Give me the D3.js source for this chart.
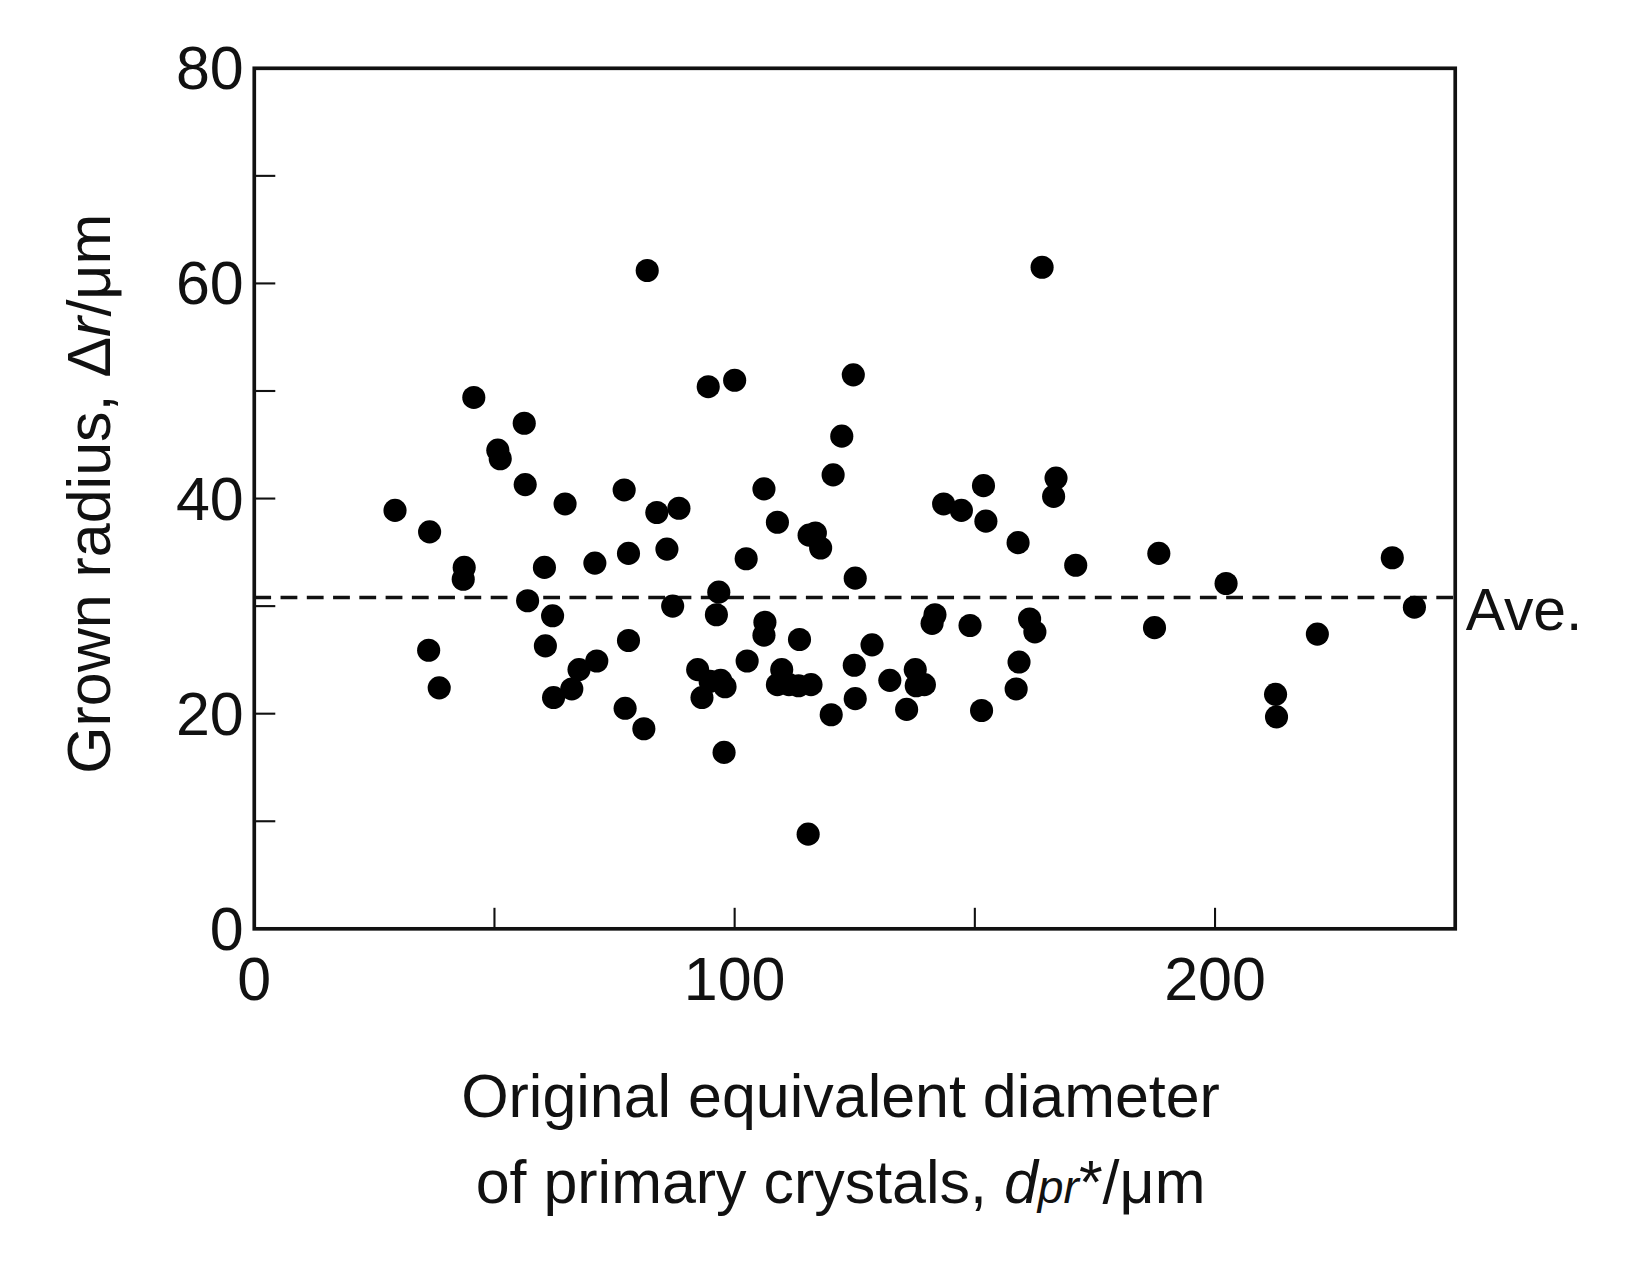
<!DOCTYPE html>
<html><head><meta charset="utf-8">
<script src="https://cdn.jsdelivr.net/npm/d3@7"></script>
<style>body{margin:0;background:#fff}svg text{font-family:"Liberation Sans",Arial,sans-serif;fill:#111}</style>
</head><body><svg id="c" width="1640" height="1263"></svg>
<script>
const xVals=[29.3,36.5,36.3,38.5,43.7,43.5,45.7,50.7,51.2,56.2,56.4,56.9,60.4,60.6,62.1,62.3,64.7,66.1,67.6,70.9,71.3,77.0,77.9,77.9,77.2,81.1,81.8,83.8,85.9,88.4,87.1,94.5,100.0,96.7,96.2,92.3,93.2,94.9,97.1,98.0,97.8,102.4,102.6,106.1,106.3,106.1,108.9,109.8,108.9,111.3,113.5,115.5,116.8,117.9,115.9,113.3,115.3,120.1,120.5,122.3,124.7,125.1,124.9,125.1,128.6,132.3,135.8,137.6,137.8,139.5,141.1,141.7,143.5,147.2,149.0,151.8,152.3,151.4,159.0,159.2,158.6,161.4,162.5,164.0,166.9,166.4,171.0,187.4,188.3,202.3,212.6,212.8,221.3,236.9,241.5];
const yVals=[38.9,36.9,25.9,22.4,33.6,32.5,49.4,44.5,43.7,47.0,41.3,30.5,33.6,26.3,29.1,21.5,39.5,22.3,24.1,34.0,24.9,40.8,34.9,26.8,20.5,18.6,61.2,38.7,35.3,39.1,30.0,50.4,51.0,31.3,29.2,24.1,21.5,23.0,23.1,22.5,16.4,34.4,24.9,40.9,28.5,27.3,37.8,24.1,22.7,22.7,26.9,36.6,36.8,35.4,22.7,22.6,8.8,19.9,42.2,45.8,51.5,32.6,24.5,21.4,26.4,23.1,20.4,24.1,22.6,22.7,28.4,29.2,39.5,38.9,28.2,41.2,37.9,20.3,35.9,24.8,22.3,28.8,27.6,61.5,41.9,40.2,33.8,28.0,34.9,32.1,21.8,19.7,27.4,34.5,29.9];
const average=30.8;
const xTicks=[0,100,200], yTicks=[0,20,40,60,80];
const svg=d3.select("#c").append("g").attr("transform","scale(1.0507)");
const L=242,R=1385,T=65,B=884;
const x=d3.scaleLinear().domain([0,250]).range([L,R]);
const y=d3.scaleLinear().domain([0,80]).range([B,T]);
d3.range(10,80,10).forEach(v=>svg.append("line").attr("x1",L).attr("x2",L+20).attr("y1",y(v)).attr("y2",y(v)).attr("stroke","#111").attr("stroke-width",2));
d3.range(50,250,50).forEach(v=>svg.append("line").attr("x1",x(v)).attr("x2",x(v)).attr("y1",B).attr("y2",B-20).attr("stroke","#111").attr("stroke-width",2));
svg.append("rect").attr("x",L).attr("y",T).attr("width",R-L).attr("height",B-T).attr("fill","none").attr("stroke","#111").attr("stroke-width",3.5);
yTicks.forEach(v=>svg.append("text").attr("x",L-10).attr("y",y(v)+20).attr("text-anchor","end").attr("font-size",58).text(v));
xTicks.forEach(v=>svg.append("text").attr("x",x(v)).attr("y",B+68).attr("text-anchor","middle").attr("font-size",58).text(v));
svg.append("line").attr("x1",L).attr("x2",R).attr("y1",y(average)).attr("y2",y(average)).attr("stroke","#111").attr("stroke-width",3.5).attr("stroke-dasharray","16,9");
svg.append("text").attr("x",R+10).attr("y",y(average)+31).attr("font-size",56).text("Ave.");
svg.selectAll("circle.d").data(xVals).join("circle").attr("cx",d=>x(d)).attr("cy",(d,i)=>y(yVals[i])).attr("r",11).attr("fill","#000");
const yt=svg.append("text").attr("transform","translate(105,470) rotate(-90)").attr("text-anchor","middle").attr("font-size",58);
yt.append("tspan").text("Grown radius, Δ");yt.append("tspan").attr("font-style","italic").text("r");yt.append("tspan").text("/μm");
svg.append("text").attr("x",800).attr("y",1063).attr("text-anchor","middle").attr("font-size",58).text("Original equivalent diameter");
const xt=svg.append("text").attr("x",800).attr("y",1145).attr("text-anchor","middle").attr("font-size",58);
xt.append("tspan").text("of primary crystals, ");xt.append("tspan").attr("font-style","italic").text("d");
xt.append("tspan").attr("font-style","italic").attr("font-size",44).text("pr");
xt.append("tspan").text("*/μm");
</script></body></html>
